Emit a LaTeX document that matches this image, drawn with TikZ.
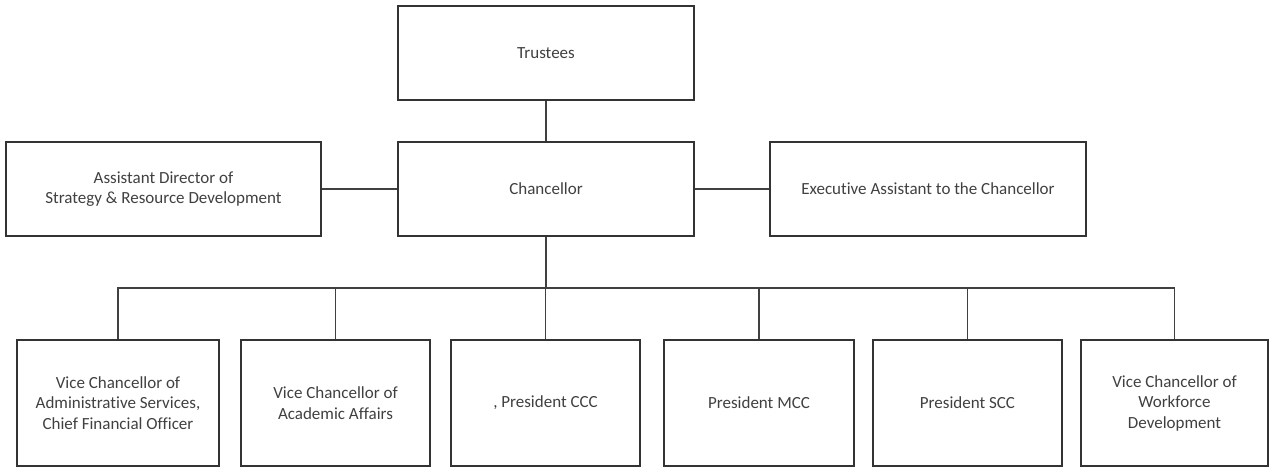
\documentclass[tikz,border=0pt]{standalone}
\usepackage{fontspec}
\setmainfont{Carlito}[Ligatures=NoCommon]
\begin{document}
\begin{tikzpicture}[
    x=1pt, y=-1pt,
    post/.style={
      draw=black!80,
      line width=1.2pt,
      align=center,
      inner sep=0pt,
      text=black!75,
      font=\fontsize{17}{20.5}\selectfont
    },
    toppost/.style={
      post,
      minimum height=94pt
    },
    lowpost/.style={
      post,
      minimum height=126pt
    },
    link/.style={
      draw=black!75,
      line width=1.2pt
    }
  ]

    \useasboundingbox (0,0) rectangle (1270,468);

    % Board and chancellor
    \node[toppost, minimum width=296pt] (trustees) at (546,53) {Trustees};
    \node[toppost, minimum width=296pt] (chancellor) at (546,189) {Chancellor};

    % Staff beside the chancellor
    \node[toppost, minimum width=315pt] (assistant) at (163.5,189) {Assistant Director of\\Strategy \& Resource Development};
    \node[toppost, minimum width=316pt] (executive) at (928,189) {Executive Assistant to the Chancellor};

    % Direct reports
    \node[lowpost, minimum width=202pt] (vcadmin) at (118,403) {Vice Chancellor of\\Administrative Services,\\Chief Financial Officer};
    \node[lowpost, minimum width=189pt] (vcacad) at (335.5,403) {Vice Chancellor of\\Academic Affairs};
    \node[lowpost, minimum width=189pt] (preccc) at (545.5,403) {, President CCC};
    \node[lowpost, minimum width=190pt] (premcc) at (759,403) {President MCC};
    \node[lowpost, minimum width=189pt] (prescc) at (967.5,403) {President SCC};
    \node[lowpost, minimum width=187pt] (vcwork) at (1174.5,403) {Vice Chancellor of\\Workforce\\Development};

    % Connectors
    \coordinate (bus) at (546,288);
    \draw[link] (trustees) -- (chancellor);
    \draw[link] (assistant) -- (chancellor);
    \draw[link] (chancellor) -- (executive);
    \draw[link] (chancellor) -- (bus);
    \draw[link] (vcadmin.north) -- (vcadmin.north |- bus) -- (vcwork.north |- bus) -- (vcwork.north);
    \foreach \post in {vcacad,preccc,premcc,prescc} {
      \draw[link] (\post.north) -- (\post.north |- bus);
    }

  \end{tikzpicture}
\end{document}
